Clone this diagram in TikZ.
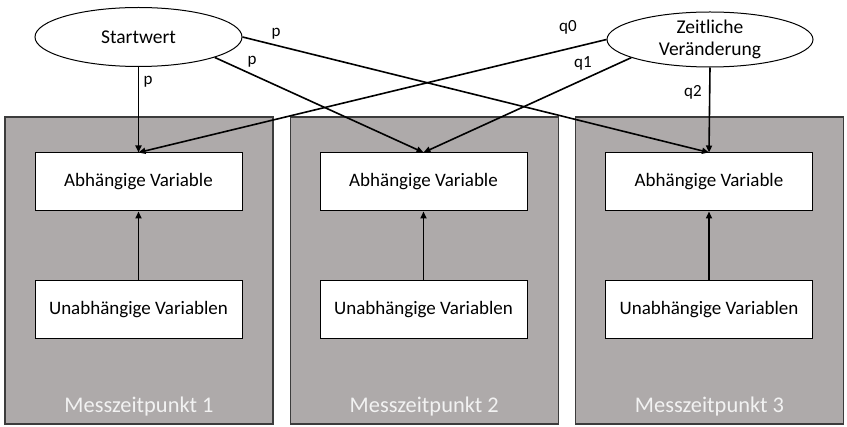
\documentclass[tikz,border=0pt]{standalone}
\usepackage{fontspec}
\setmainfont{Carlito}
\usetikzlibrary{arrows.meta,shapes.geometric}
\definecolor{panelgray}{RGB}{174,170,170}
\definecolor{edgegray}{RGB}{60,60,60}
\definecolor{labelwhite}{RGB}{242,242,242}
\tikzset{
  panel/.style={draw=edgegray,line width=1.2pt,fill=panelgray,minimum width=268pt,minimum height=307pt,inner sep=0pt},
  varbox/.style={draw=black,line width=1pt,fill=white,minimum width=207pt,minimum height=58pt,inner sep=0pt,font=\fontsize{19}{23}\selectfont},
  latent/.style={ellipse,draw=black,line width=1pt,fill=white,minimum width=207pt,minimum height=58pt,inner sep=0pt,font=\fontsize{19.5}{23}\selectfont,align=center},
  plabel/.style={font=\fontsize{17}{19}\selectfont,inner sep=0pt},
  mlabel/.style={text=labelwhite,font=\fontsize{22.4}{26}\selectfont,inner sep=0pt},
  arr/.style={line width=1.6pt,-{Triangle[length=7pt,width=6pt]}}
}
\begin{document}
\begin{tikzpicture}[x=1pt,y=-1pt]
\useasboundingbox (0,0) rectangle (847,427);
\node[panel] (P1) at (139,270.5) {};
\node[panel] (P2) at (424.25,270.5) {};
\node[panel] (P3) at (709.5,270.5) {};
\node[mlabel] (M1) at (139,407) {Messzeitpunkt 1};
\node[mlabel] (M2) at (424.25,407) {Messzeitpunkt 2};
\node[mlabel] (M3) at (709.5,407) {Messzeitpunkt 3};
\node[varbox] (A1) at (138.5,182) {Abhängige Variable};
\node[varbox] (A2) at (423.5,182) {Abhängige Variable};
\node[varbox] (A3) at (709,182) {Abhängige Variable};
\node[varbox] (U1) at (138.5,310) {Unabhängige Variablen};
\node[varbox] (U2) at (423.5,310) {Unabhängige Variablen};
\node[varbox] (U3) at (709,310) {Unabhängige Variablen};
\node[latent,minimum height=59pt] (S) at (138.5,37) {Startwert};
\node[latent,minimum width=206pt,minimum height=54pt] (Z) at (710,39.5) {Zeitliche\\[-1pt]Veränderung};
\draw[arr] (U1.north) -- (A1.south);
\draw[arr] (U2.north) -- (A2.south);
\draw[arr] (U3.north) -- (A3.south);
\draw[arr] (S.south) -- (A1.north);
\draw[arr] (S.-15) -- (A2.north);
\draw[arr] (S.east) -- (A3.north);
\draw[arr] (Z.west) -- (A1.north);
\draw[arr] (Z.193) -- (A2.north);
\draw[arr] (Z.south) -- (A3.north);
\node[plabel] (l1) at (148,82) {p};
\node[plabel] (l2) at (252,62) {p};
\node[plabel] (l3) at (276,34) {p};
\node[plabel] (l4) at (568,27) {q0};
\node[plabel] (l5) at (583,63) {q1};
\node[plabel] (l6) at (693,92) {q2};
\end{tikzpicture}
\end{document}
